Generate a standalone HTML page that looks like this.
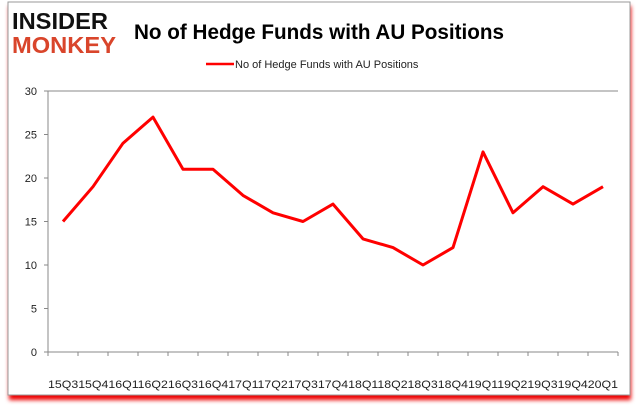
<!DOCTYPE html>
<html><head><style>
body{margin:0;background:#fff;width:637px;height:408px;overflow:hidden;font-family:"Liberation Sans",sans-serif}
</style></head><body>
<svg width="637" height="408" xmlns="http://www.w3.org/2000/svg">
<defs><filter id="b" x="-5%" y="-5%" width="110%" height="115%"><feGaussianBlur stdDeviation="2"/></filter></defs>
<rect x="9" y="6" width="622" height="394" fill="#e00" filter="url(#b)"/>
<rect x="8" y="2" width="622" height="393" fill="#fff" stroke="#999" stroke-width="1"/>
<text x="12" y="29" font-weight="900" font-size="23" fill="#111" textLength="96" lengthAdjust="spacingAndGlyphs">INSIDER</text>
<text x="12" y="53" font-weight="900" font-size="23" fill="#d9452b" textLength="104" lengthAdjust="spacingAndGlyphs">MONKEY</text>
<text x="134" y="39" font-weight="bold" font-size="21" fill="#000" textLength="370" lengthAdjust="spacingAndGlyphs">No of Hedge Funds with AU Positions</text>
<line x1="206" y1="64" x2="234" y2="64" stroke="red" stroke-width="2.5"/>
<text x="235" y="68" font-size="11" fill="#222">No of Hedge Funds with AU Positions</text>
<g stroke="#888" stroke-width="1">
<line x1="48" y1="91" x2="618" y2="91"/>
<line x1="48" y1="91" x2="48" y2="352"/>
<line x1="48" y1="352" x2="618" y2="352"/>
<line x1="44" y1="91" x2="48" y2="91"/><line x1="44" y1="134.5" x2="48" y2="134.5"/><line x1="44" y1="178" x2="48" y2="178"/><line x1="44" y1="221.5" x2="48" y2="221.5"/><line x1="44" y1="265" x2="48" y2="265"/><line x1="44" y1="308.5" x2="48" y2="308.5"/><line x1="44" y1="352" x2="48" y2="352"/>
<path d="M48 352v4M78 352v4M108 352v4M138 352v4M168 352v4M198 352v4M228 352v4M258 352v4M288 352v4M318 352v4M348 352v4M378 352v4M408 352v4M438 352v4M468 352v4M498 352v4M528 352v4M558 352v4M588 352v4M618 352v4"/>
</g>
<g font-size="11" fill="#222" text-anchor="end">
<text x="37" y="95">30</text><text x="37" y="138.5">25</text><text x="37" y="182">20</text><text x="37" y="225.5">15</text><text x="37" y="269">10</text><text x="37" y="312.5">5</text><text x="37" y="356">0</text>
</g>
<text x="48" y="388" font-size="11" fill="#222" textLength="570" lengthAdjust="spacingAndGlyphs">15Q315Q416Q116Q216Q316Q417Q117Q217Q317Q418Q118Q218Q318Q419Q119Q219Q319Q420Q1</text>
<polyline fill="none" stroke="red" stroke-width="3" stroke-linejoin="round" points="63,221.5 93,186.7 123,143.2 153,117.1 183,169.3 213,169.3 243,195.4 273,212.8 303,221.5 333,204.1 363,238.9 393,247.6 423,265 453,247.6 483,151.9 513,212.8 543,186.7 573,204.1 603,186.7"/>
</svg>
</body></html>
